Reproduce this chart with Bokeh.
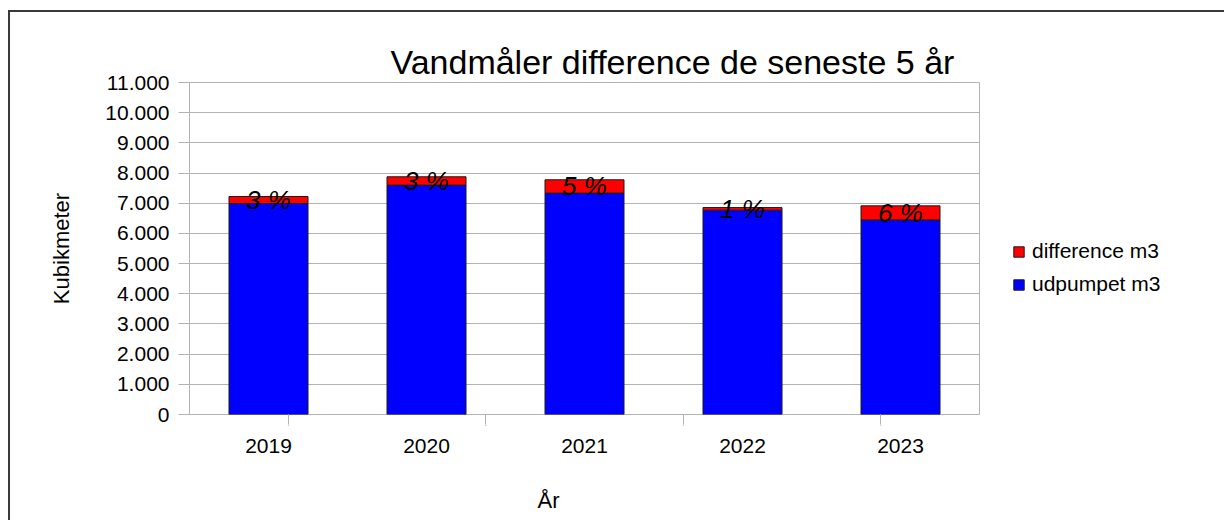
from bokeh.plotting import figure
from bokeh.models import (ColumnDataSource, FactorRange, Range1d, CategoricalAxis,
                          FixedTicker, Legend, LegendItem, Title, LabelSet)
from bokeh.core.properties import value
from bokeh.embed import file_html
from bokeh.resources import INLINE

years = ["2019", "2020", "2021", "2022", "2023"]
udpumpet = [6990, 7600, 7335, 6770, 6447]
difference = [232, 276, 442, 86, 466]
pct_labels = ["3 %", "3 %", "5 %", "1 %", "6 %"]
y_ticks = [0, 1000, 2000, 3000, 4000, 5000, 6000, 7000, 8000, 9000, 10000, 11000]
y_tick_labels = ["0", "1.000", "2.000", "3.000", "4.000", "5.000", "6.000", "7.000",
                 "8.000", "9.000", "10.000", "11.000"]

FONT = "Liberation Sans"
GRID = "#b3b3b3"

mid = [u + d / 2 for u, d in zip(udpumpet, difference)]
src = ColumnDataSource(dict(year=years, udpumpet=udpumpet, difference=difference,
                            mid=mid, pct=pct_labels))

p = figure(x_range=FactorRange(*years, range_padding=0), y_range=Range1d(0, 11000),
           frame_width=790, frame_height=332, output_backend="svg", toolbar_location=None,
           x_axis_location=None, min_border_left=179, min_border_right=0,
           min_border_top=70, min_border_bottom=106)
p.margin = (10, 0, 0, 8)
p.styles = {"border-left": "2px solid #3a3a3a", "border-top": "2px solid #3a3a3a"}
p.background_fill_color = "white"
p.border_fill_color = "white"
p.outline_line_color = GRID
p.outline_line_width = 1

rs = p.vbar_stack(["udpumpet", "difference"], x="year", width=0.5, source=src,
                  color=["#0000ff", "#ff0000"], line_color="#1a1a1a", line_width=1)

labels = LabelSet(x="year", y="mid", text="pct", source=src, text_align="center",
                  text_baseline="middle", text_font=value(FONT), text_font_size="26px",
                  text_font_style="italic", text_color="black")
p.add_layout(labels)

# y axis
yax = p.yaxis[0]
yax.ticker = FixedTicker(ticks=y_ticks)
yax.major_label_overrides = {t: l for t, l in zip(y_ticks, y_tick_labels)}
yax.axis_line_color = None
yax.major_tick_in = 0
yax.major_tick_out = 11
yax.major_tick_line_color = GRID
yax.minor_tick_line_color = None
yax.major_label_standoff = 9
yax.major_label_text_font = FONT
yax.major_label_text_font_size = "21px"
yax.major_label_text_color = "black"
yax.axis_label = "Kubikmeter"
yax.axis_label_text_font = FONT
yax.axis_label_text_font_size = "22px"
yax.axis_label_text_font_style = "normal"
yax.axis_label_text_color = "black"
yax.axis_label_standoff = 28

p.ygrid.ticker = FixedTicker(ticks=y_ticks)
p.ygrid.grid_line_color = GRID
p.xgrid.grid_line_color = None

# boundary tick marks between the year categories (a second categorical range
# whose factor centres fall on the category edges)
edge_names = ["e%d" % i for i in range(len(years) + 1)]
p.extra_x_ranges = {"edges": FactorRange(*edge_names, range_padding=-1,
                                         range_padding_units="absolute")}
tick_axis = CategoricalAxis(x_range_name="edges",
                            major_label_overrides={n: "" for n in edge_names},
                            major_label_text_font_size="1px", major_label_standoff=0,
                            axis_line_color=None, major_tick_in=0, major_tick_out=10,
                            major_tick_line_color=GRID)
p.add_layout(tick_axis, "below")

cat_axis = CategoricalAxis(axis_line_color=None, major_tick_in=0, major_tick_out=0,
                           major_tick_line_color=None, major_label_standoff=10,
                           major_label_text_font=FONT, major_label_text_font_size="21px",
                           major_label_text_color="black")
p.add_layout(cat_axis, "below")

p.title.text = "Vandmåler difference de seneste 5 år"
p.title.align = "left"
p.title.offset = 201
p.title.text_font = FONT
p.title.text_font_size = "34px"
p.title.text_font_style = "normal"
p.title.text_color = "black"
p.title.standoff = 3

xtitle = Title(text="År", align="left", offset=348, text_font=FONT, text_font_size="22px",
               text_font_style="normal", text_color="black", standoff=60)
p.add_layout(xtitle, "below")

legend = Legend(items=[LegendItem(label="difference m3", renderers=[rs[1]]),
                       LegendItem(label="udpumpet m3", renderers=[rs[0]])],
                location=(33, 118), padding=0, margin=0, border_line_alpha=0,
                background_fill_alpha=0, glyph_width=13, glyph_height=13,
                label_standoff=7, spacing=9, label_text_font=FONT,
                label_text_font_size="21px", label_text_color="black")
p.add_layout(legend, "right")

open("out.html", "w").write(file_html(p, INLINE))
